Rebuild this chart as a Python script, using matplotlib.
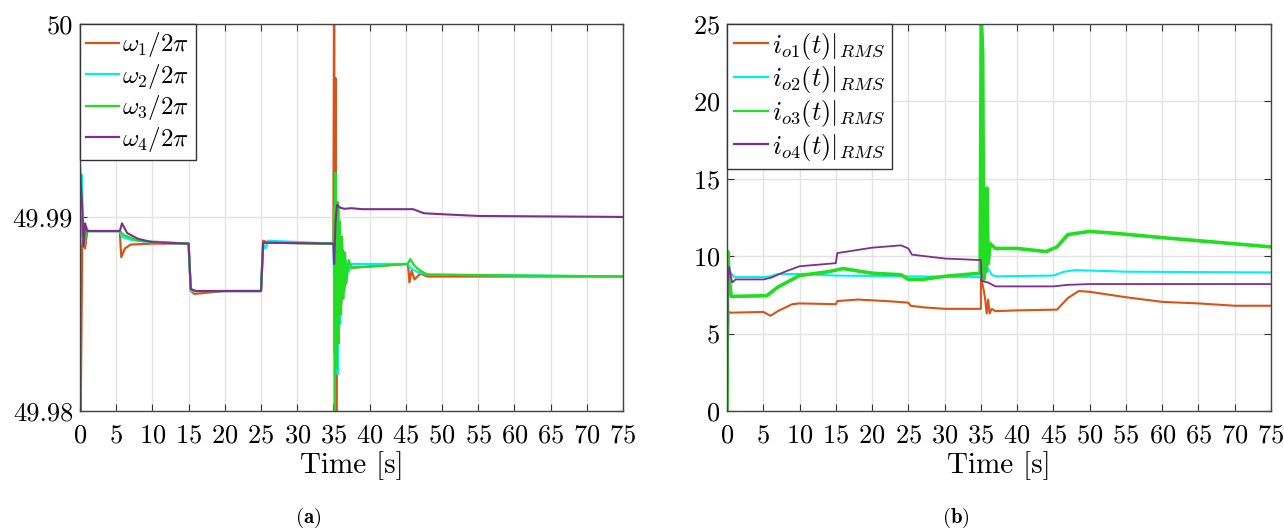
import matplotlib
matplotlib.use('Agg')
import matplotlib.pyplot as plt

plt.rcParams['font.family'] = 'serif'
plt.rcParams['font.serif'] = ['cmr10', 'DejaVu Serif']
plt.rcParams['mathtext.fontset'] = 'cm'
plt.rcParams['axes.formatter.use_mathtext'] = True

C_ORANGE = '#D95319'
C_CYAN = '#00F0F0'
C_GREEN = '#22DD22'
C_PURPLE = '#7E2F8E'

# ---- panel (a): frequencies [Hz]
t_w1 = [0, 0.1, 0.3, 0.5, 0.7, 1.0, 5.5, 5.7, 6.2, 7, 10, 15, 15.3, 15.8, 20, 25, 25.3, 26, 35,
        35.1, 35.2, 35.3, 35.4, 35.55, 35.7, 35.9, 36.1, 36.3, 36.5, 36.8, 37.2, 45.3, 45.5, 45.8,
        46.2, 47, 48, 75]
w1 = [49.9880, 49.9800, 49.9885, 49.9892, 49.9884, 49.9893, 49.9893, 49.98795, 49.9884, 49.9886,
      49.98865, 49.98865, 49.9862, 49.98605, 49.9862, 49.9862, 49.9888, 49.9887, 49.98865,
      50.002, 49.9830, 49.9972, 49.9790, 49.9905, 49.9845, 49.9893, 49.9855, 49.9883, 49.9862,
      49.9875, 49.9874, 49.9876, 49.98665, 49.98725, 49.9868, 49.9871, 49.98695, 49.98695]

t_w2 = [0, 0.25, 0.5, 0.8, 1.2, 5.5, 5.8, 7, 10, 15, 15.3, 16, 25, 25.3, 25.6, 26, 35,
        35.15, 35.25, 35.4, 35.6, 35.75, 35.95, 36.15, 36.4, 36.7, 37.1, 37.6, 45.3, 45.6, 46.5,
        48, 75]
w2 = [49.9915, 49.9922, 49.9888, 49.9895, 49.9893, 49.9893, 49.9890, 49.98885, 49.9887, 49.98865,
      49.9862, 49.9862, 49.9862, 49.9886, 49.9884, 49.9888, 49.98865,
      49.9858, 49.9923, 49.9840, 49.9819, 49.9905, 49.9845, 49.9888, 49.9862, 49.9878, 49.9872,
      49.9876, 49.9876, 49.9874, 49.9872, 49.98705, 49.98695]

t_w3 = [0, 0.3, 0.6, 0.9, 5.5, 6, 8, 15, 15.3, 16, 25, 25.3, 35,
        35.1, 35.2, 35.3, 35.45, 35.6, 35.75, 35.9, 36.05, 36.2, 36.4, 36.6, 36.8, 37.1, 37.5,
        45.3, 45.6, 46.2, 47, 48, 75]
w3 = [49.9885, 49.9900, 49.9885, 49.9893, 49.9893, 49.9891, 49.9888, 49.98865, 49.9863, 49.9862,
      49.9862, 49.9887, 49.98865,
      49.9905, 49.9790, 49.9923, 49.9822, 49.9908, 49.9835, 49.9898, 49.9850, 49.9890, 49.9858,
      49.9882, 49.9866, 49.9878, 49.9874,
      49.9876, 49.98785, 49.9875, 49.98725, 49.98705, 49.98695]

t_w4 = [0, 0.3, 0.5, 0.7, 1.0, 5.5, 5.8, 6.5, 8, 10, 15, 15.3, 16, 25, 25.3, 35,
        35.1, 35.3, 35.5, 36, 36.5, 37.5, 39, 46, 47.5, 50, 55, 75]
w4 = [49.9927, 49.9905, 49.9885, 49.9897, 49.9893, 49.9893, 49.9897, 49.9892, 49.9889, 49.98872,
      49.98865, 49.9863, 49.9862, 49.9862, 49.9887, 49.98865,
      49.9876, 49.9898, 49.99065, 49.9905, 49.99045, 49.99048, 49.99043, 49.99043, 49.99022,
      49.99017, 49.99008, 49.99003]

# ---- panel (b): RMS output currents [A]
t_i1 = [0, 0.2, 0.5, 5, 6, 7, 9, 10, 15, 15.2, 18, 22, 25, 25.3, 27, 30, 35,
        35.05, 35.15, 35.4, 35.6, 35.8, 36, 36.2, 36.5, 37, 40, 45.5, 47, 48.5, 50, 55, 60, 65,
        70, 75]
i1 = [0, 6.4, 6.35, 6.4, 6.15, 6.45, 6.9, 6.95, 6.9, 7.1, 7.2, 7.1, 7.0, 6.8, 6.7, 6.6, 6.6,
      25.5, 8.3, 7.8, 7.2, 6.3, 7.2, 6.3, 6.6, 6.45, 6.5, 6.55, 7.3, 7.75, 7.7, 7.35, 7.05, 6.95,
      6.8, 6.8]

t_i2 = [0, 0.1, 0.4, 1, 5, 6, 7, 10, 15, 25, 35, 35.05, 35.3, 35.6, 36, 36.5, 37, 45, 46.5, 48,
        55, 75]
i2 = [0, 10.0, 9.0, 8.65, 8.65, 8.7, 8.85, 8.85, 8.75, 8.7, 8.65, 25.5, 10.5, 9.5, 9.2, 8.8,
      8.7, 8.75, 9.0, 9.1, 9.0, 8.95]

t_i3 = [0, 0.1, 0.3, 0.6, 5.5, 7, 10, 14, 16, 20, 24, 25, 27, 30, 34.9,
        35.05, 35.25, 35.4, 35.55, 35.7, 35.85, 36.0, 36.3, 37, 40, 44, 45.5, 47, 50, 53, 60, 65,
        70, 75]
i3 = [0, 10.3, 8.5, 7.4, 7.45, 8.0, 8.75, 9.0, 9.2, 8.9, 8.8, 8.5, 8.5, 8.7, 8.9,
      25.5, 23.2, 8.5, 13.3, 9.0, 14.4, 9.5, 10.8, 10.5, 10.5, 10.3, 10.6, 11.4, 11.6, 11.5,
      11.2, 11.0, 10.8, 10.6]

t_i4 = [0, 0.1, 0.3, 0.7, 1.2, 5, 6, 8, 10, 15, 15.2, 20, 24, 25, 25.5, 30, 35,
        35.1, 36, 37, 45, 47, 50, 75]
i4 = [0, 8.3, 9.3, 8.3, 8.5, 8.5, 8.6, 9.0, 9.35, 9.55, 10.2, 10.55, 10.7, 10.5, 10.1, 9.85,
      9.75, 8.4, 8.3, 8.05, 8.05, 8.15, 8.2, 8.2]

x_ticks = list(range(0, 80, 5))
ya_ticks = [49.98, 49.99, 50]
ya_labels = ['49.98', '49.99', '50']
yb_ticks = [0, 5, 10, 15, 20, 25]

fig = plt.figure(figsize=(12.84, 5.30), dpi=100)
ax1 = fig.add_axes([80 / 1284, 1 - 411 / 530, 543 / 1284, 387 / 530])
ax2 = fig.add_axes([727 / 1284, 1 - 411 / 530, 544 / 1284, 387 / 530])

ax1.plot(t_w1, w1, color=C_ORANGE, lw=1.6, label=r'$\omega_1/2\pi$')
ax1.plot(t_w2, w2, color=C_CYAN, lw=1.6, label=r'$\omega_2/2\pi$')
ax1.plot(t_w3, w3, color=C_GREEN, lw=1.6, label=r'$\omega_3/2\pi$')
ax1.plot(t_w4, w4, color=C_PURPLE, lw=1.5, label=r'$\omega_4/2\pi$')
ax1.set_ylim(49.98, 50)
ax1.set_yticks(ya_ticks)
ax1.set_yticklabels(ya_labels)

ax2.plot(t_i1, i1, color=C_ORANGE, lw=1.5, label=r'$i_{o1}(t)|_{RMS}$')
ax2.plot(t_i2, i2, color=C_CYAN, lw=1.5, label=r'$i_{o2}(t)|_{RMS}$')
ax2.plot(t_i3, i3, color=C_GREEN, lw=2.6, label=r'$i_{o3}(t)|_{RMS}$')
ax2.plot(t_i4, i4, color=C_PURPLE, lw=1.3, label=r'$i_{o4}(t)|_{RMS}$')
ax2.set_ylim(0, 25)
ax2.set_yticks(yb_ticks)

for ax, fs in ((ax1, 18), (ax2, 19)):
    ax.set_xlim(0, 75)
    ax.set_xticks(x_ticks)
    ax.grid(True, color='#E3E3E3', lw=1.0)
    ax.set_axisbelow(True)
    ax.tick_params(direction='in', top=True, right=True, length=5, labelsize=19,
                   color='#333333', pad=5)
    ax.tick_params(axis='x', pad=9)
    for s in ax.spines.values():
        s.set_color('#444444')
        s.set_linewidth(1.0)
    ax.set_xlabel('Time [s]', fontsize=21, labelpad=3)
    leg = ax.legend(loc='upper left', fontsize=fs, fancybox=False, framealpha=1,
                    edgecolor='#333333', borderaxespad=0.0, handlelength=1.3,
                    handletextpad=0.15, labelspacing=0.1, borderpad=0.25)
    leg.get_frame().set_linewidth(1.0)
    for h in leg.get_lines():
        h.set_linewidth(1.6)

fig.text(308 / 1284, 1 - 518 / 530, r'($\mathbf{a}$)', fontsize=15, ha='center', va='center')
fig.text(956 / 1284, 1 - 518 / 530, r'($\mathbf{b}$)', fontsize=15, ha='center', va='center')

plt.savefig('out.png', dpi=100)
